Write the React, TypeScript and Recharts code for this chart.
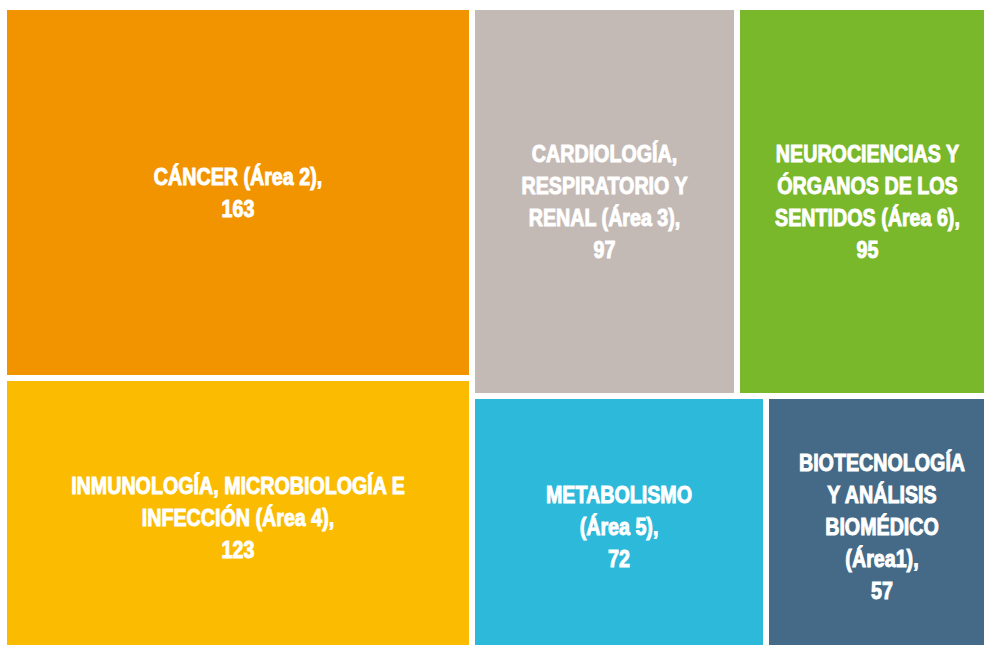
import { Treemap } from "recharts";

// research areas, counts and colours (in drawing order)
const areaKeys = ["cancer", "inmunologia", "cardiologia", "neurociencias", "metabolismo", "biotecnologia"];
const areaCounts = [163, 123, 97, 95, 72, 57];
const areaColors = ["#F29400", "#FABB00", "#C4BAB5", "#78B82A", "#2CB9DA", "#446A87"];
const areaLabels = [
  ["CÁNCER (Área 2),"],
  ["INMUNOLOGÍA, MICROBIOLOGÍA E", "INFECCIÓN (Área 4),"],
  ["CARDIOLOGÍA,", "RESPIRATORIO Y", "RENAL (Área 3),"],
  ["NEUROCIENCIAS Y", "ÓRGANOS DE LOS", "SENTIDOS (Área 6),"],
  ["METABOLISMO", "(Área 5),"],
  ["BIOTECNOLOGÍA", "Y ANÁLISIS", "BIOMÉDICO", "(Área1),"],
];

const data = areaKeys.map((key, i) => ({
  name: key,
  size: areaCounts[i],
  color: areaColors[i],
  lines: [...areaLabels[i], String(areaCounts[i])],
}));

const LINE_H = 32;
// no narrow font installed, so squeeze Liberation Sans Bold horizontally
const NARROW = 0.82;

function AreaCell(props: any) {
  const { x, y, width, height, depth, color, lines } = props;
  if (depth !== 1 || !lines) return null;
  const cx = x + width / 2;
  const cy = y + height / 2;
  const first = cy - ((lines.length - 1) * LINE_H) / 2 + 8.5;
  return (
    <g>
      <rect x={x} y={y} width={width} height={height} fill={color} stroke="#ffffff" strokeWidth={6} />
      <g transform={`translate(${cx},0) scale(${NARROW},1)`}>
        <text
          x={0}
          textAnchor="middle"
          fill="#ffffff"
          fontSize={24}
          fontWeight="bold"
          fontFamily="'Liberation Sans', Arial, sans-serif"
        >
          {lines.map((line: string, i: number) => (
            <tspan key={i} x={0} y={first + i * LINE_H}>
              {line}
            </tspan>
          ))}
        </text>
      </g>
    </g>
  );
}

export default function App() {
  return (
    <div style={{ position: "absolute", left: 0, top: 0, width: 984, height: 645, overflow: "hidden", background: "#fff" }}>
      <div style={{ position: "absolute", left: 4, top: 7 }}>
        <Treemap
          width={994}
          height={650}
          data={data}
          dataKey="size"
          nameKey="name"
          stroke="#fff"
          isAnimationActive={false}
          content={<AreaCell />}
        />
      </div>
    </div>
  );
}
